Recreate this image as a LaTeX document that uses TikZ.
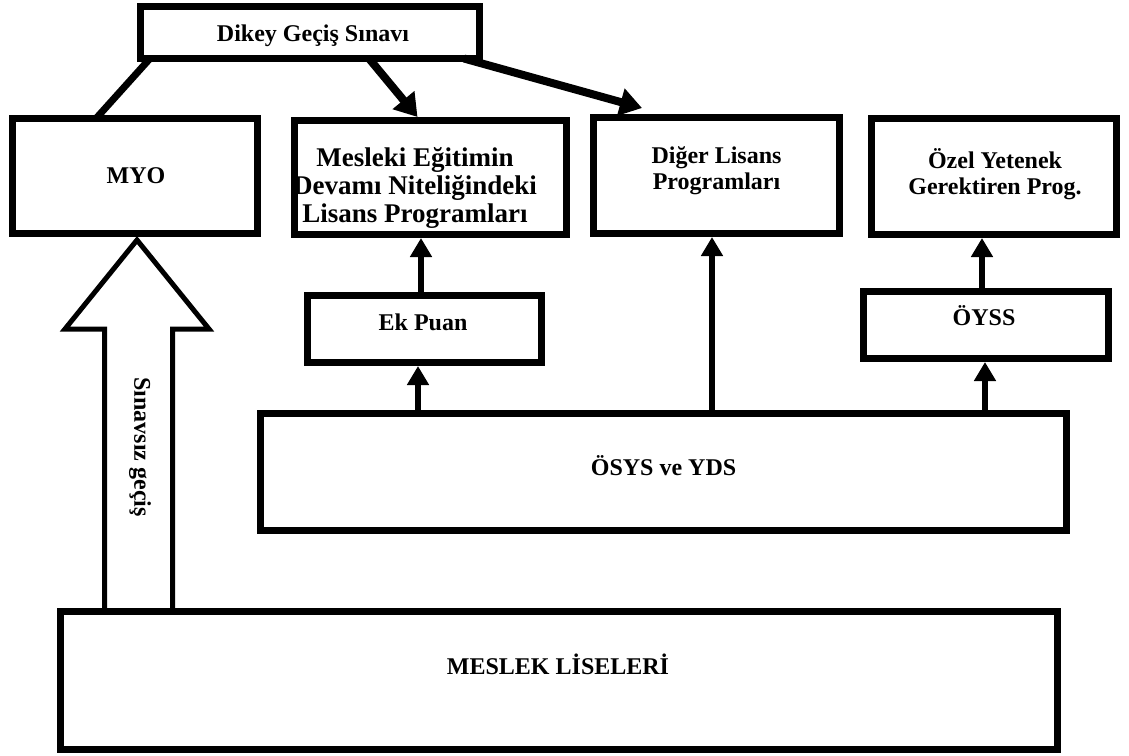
\documentclass[tikz,border=0pt]{standalone}
\usepackage{fontspec}
\setmainfont{Liberation Serif}
\usetikzlibrary{arrows.meta}
\begin{document}
\begin{tikzpicture}[x=1pt,y=-1pt,
  box/.style={draw, line width=7pt, inner sep=0pt, fill=white},
  lbl/.style={anchor=base, inner sep=0pt, font=\fontsize{24}{24}\selectfont\bfseries},
  lblbig/.style={anchor=base, inner sep=0pt, font=\fontsize{27}{28}\selectfont\bfseries},
  varrow/.style={line width=6pt, -{Triangle[length=19pt,width=21pt]}},
  darrow/.style={line width=8pt, -{Triangle[length=22pt,width=27pt]}},
  dline/.style={line width=7pt},
  bigarrow/.style={line width=5pt, line join=miter}]
\useasboundingbox (0,0) rectangle (1129,755);
% boxes
\node[box, minimum width=339pt, minimum height=52pt] (dgs) at (310,32.5) {};
\node[box, minimum width=245pt, minimum height=115pt] (myo) at (135,176) {};
\node[box, minimum width=272pt, minimum height=114pt] (mes) at (430,177.5) {};
\node[box, minimum width=246pt, minimum height=116pt] (dig) at (716.5,175.5) {};
\node[box, minimum width=245pt, minimum height=116pt] (ozel) at (994,176.5) {};
\node[box, minimum width=234pt, minimum height=67pt] (ek) at (424.5,329) {};
\node[box, minimum width=245pt, minimum height=67pt] (oyss) at (986,325) {};
\node[box, minimum width=806pt, minimum height=117pt] (osys) at (663.5,472) {};
\node[box, minimum width=997pt, minimum height=138pt] (mlis) at (559,680.5) {};
% texts
\node[lbl] (tdgs) at (313,41) {Dikey Geçiş Sınavı};
\node[lbl] (tmyo) at (136,183) {MYO};
\node[lblbig] (tmes1) at (415,166.5) {Mesleki Eğitimin};
\node[lblbig] (tmes2) at (415,194.5) {Devamı Niteliğindeki};
\node[lblbig] (tmes3) at (415,222) {Lisans Programları};
\node[lbl] (tdig1) at (716.5,163.5) {Diğer Lisans};
\node[lbl] (tdig2) at (716.5,189.5) {Programları};
\node[lbl] (toz1) at (995,168) {Özel Yetenek};
\node[lbl] (toz2) at (995,194) {Gerektiren Prog.};
\node[lbl] (tek) at (423,330) {Ek Puan};
\node[lbl] (toy) at (984,325) {ÖYSS};
\node[lbl] (tos) at (663.5,475) {ÖSYS ve YDS};
\node[lbl] (tml) at (558,674) {MESLEK LİSELERİ};
% diagonal connectors from Dikey Geçiş Sınavı
\draw[dline] ([xshift=13pt,yshift=3.5pt]dgs.south west) -- ([xshift=87pt,yshift=-3.5pt]myo.north west);
\draw[darrow] ([xshift=232pt,yshift=3.5pt]dgs.south west) -- ([xshift=127pt]mes.north west);
\draw[darrow] ([xshift=327pt,yshift=3.5pt]dgs.south west) -- ([xshift=52pt,yshift=6pt]dig.north west);
% vertical arrows
\draw[varrow] ([xshift=-6.5pt,yshift=-3pt]ek.south |- osys.north) -- ([xshift=-6.5pt]ek.south);
\draw[varrow] ([xshift=-3.5pt,yshift=-3pt]ek.north) -- ([xshift=-3.5pt]ek.north |- mes.south);
\draw[varrow] ([xshift=-4.5pt,yshift=-3pt]dig.south |- osys.north) -- ([xshift=-4.5pt]dig.south);
\draw[varrow] ([xshift=-1pt,yshift=-3pt]oyss.south |- osys.north) -- ([xshift=-1pt]oyss.south);
\draw[varrow] ([xshift=-4pt,yshift=-3pt]oyss.north) -- ([xshift=-4pt]oyss.north |- ozel.south);
% big hollow arrow (Sınavsız geçiş)
\coordinate (hb) at (0,329);
\draw[bigarrow] ([xshift=47.5pt,yshift=-3pt]mlis.north west) -- ([xshift=47.5pt]mlis.north west |- hb)
  -- ([xshift=8pt]mlis.north west |- hb) -- ([xshift=2pt,yshift=-3pt]myo.south)
  -- ([xshift=152pt]mlis.north west |- hb) -- ([xshift=115.5pt]mlis.north west |- hb)
  -- ([xshift=115.5pt,yshift=-3pt]mlis.north west);
\node[lbl, anchor=center, rotate=-90] (tsg) at (140,447) {Sınavsız geçiş};
\end{tikzpicture}
\end{document}
